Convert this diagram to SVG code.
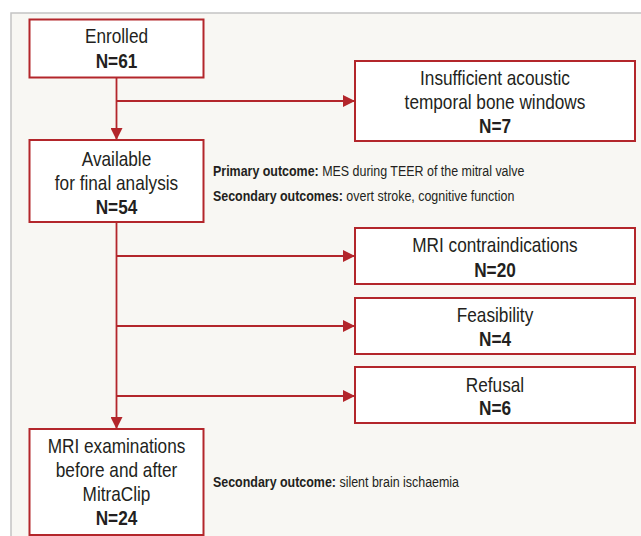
<svg xmlns="http://www.w3.org/2000/svg" width="641" height="536" viewBox="0 0 641 536">
<defs>
<style>
.bg{fill:#f8f7f3;stroke:#c4c4c4;stroke-width:1.5}
.box{fill:#ffffff;stroke:#b3262b;stroke-width:2}
.ln{fill:none;stroke:#b3262b;stroke-width:1.8}
.t{font-family:"Liberation Sans",Arial,sans-serif;fill:#231f20;font-size:21px;text-anchor:middle}
.b{font-weight:bold}
.s{font-family:"Liberation Sans",Arial,sans-serif;fill:#231f20;font-size:15px}
</style>
<marker id="ah" viewBox="0 0 12 12" refX="12" refY="6" markerWidth="12" markerHeight="12" markerUnits="userSpaceOnUse" orient="auto">
<path d="M0,0 L12,6 L0,12 Z" fill="#b3262b"/>
</marker>
</defs>
<rect class="bg" x="11" y="13" width="640" height="540"/>
<g id="connectors">
<line class="ln" x1="116.5" y1="78" x2="116.5" y2="140" marker-end="url(#ah)"/>
<line class="ln" x1="116.5" y1="101" x2="355" y2="101" marker-end="url(#ah)"/>
<line class="ln" x1="116.5" y1="223" x2="116.5" y2="429" marker-end="url(#ah)"/>
<line class="ln" x1="116.5" y1="256" x2="355" y2="256" marker-end="url(#ah)"/>
<line class="ln" x1="116.5" y1="326" x2="355" y2="326" marker-end="url(#ah)"/>
<line class="ln" x1="116.5" y1="396" x2="355" y2="396" marker-end="url(#ah)"/>
</g>
<g id="enrolled">
<rect class="box" x="29.5" y="19.5" width="174" height="58"/>
<text class="t" transform="matrix(0.82 0 0 1 116.5 43)">Enrolled</text>
<text class="t b" transform="matrix(0.82 0 0 1 116.5 68)">N=61</text>
</g>
<g id="insufficient">
<rect class="box" x="355" y="61" width="280" height="80"/>
<text class="t" transform="matrix(0.82 0 0 1 495 85)">Insufficient acoustic</text>
<text class="t" transform="matrix(0.82 0 0 1 495 109)">temporal bone windows</text>
<text class="t b" transform="matrix(0.82 0 0 1 495 133)">N=7</text>
</g>
<g id="available">
<rect class="box" x="29.5" y="140" width="174" height="82"/>
<text class="t" transform="matrix(0.82 0 0 1 116.5 166)">Available</text>
<text class="t" transform="matrix(0.82 0 0 1 116.5 190)">for final analysis</text>
<text class="t b" transform="matrix(0.82 0 0 1 116.5 214)">N=54</text>
</g>
<g id="outcomes1">
<text class="s" transform="matrix(0.83 0 0 1 213 176)"><tspan font-weight="bold">Primary outcome:</tspan> MES during TEER of the mitral valve</text>
<text class="s" transform="matrix(0.83 0 0 1 213 201)"><tspan font-weight="bold">Secondary outcomes:</tspan> overt stroke, cognitive function</text>
</g>
<g id="mri-contra">
<rect class="box" x="355" y="228" width="280" height="56"/>
<text class="t" transform="matrix(0.82 0 0 1 495 252)">MRI contraindications</text>
<text class="t b" transform="matrix(0.82 0 0 1 495 277)">N=20</text>
</g>
<g id="feasibility">
<rect class="box" x="355" y="298" width="280" height="56"/>
<text class="t" transform="matrix(0.82 0 0 1 495 322)">Feasibility</text>
<text class="t b" transform="matrix(0.82 0 0 1 495 346)">N=4</text>
</g>
<g id="refusal">
<rect class="box" x="355" y="367" width="280" height="56"/>
<text class="t" transform="matrix(0.82 0 0 1 495 392)">Refusal</text>
<text class="t b" transform="matrix(0.82 0 0 1 495 415)">N=6</text>
</g>
<g id="mri-exam">
<rect class="box" x="29.5" y="429" width="174" height="106"/>
<text class="t" transform="matrix(0.82 0 0 1 116.5 453)">MRI examinations</text>
<text class="t" transform="matrix(0.82 0 0 1 116.5 477)">before and after</text>
<text class="t" transform="matrix(0.82 0 0 1 116.5 501)">MitraClip</text>
<text class="t b" transform="matrix(0.82 0 0 1 116.5 525)">N=24</text>
</g>
<g id="outcomes2">
<text class="s" transform="matrix(0.83 0 0 1 213 487)"><tspan font-weight="bold">Secondary outcome:</tspan> silent brain ischaemia</text>
</g>
</svg>
